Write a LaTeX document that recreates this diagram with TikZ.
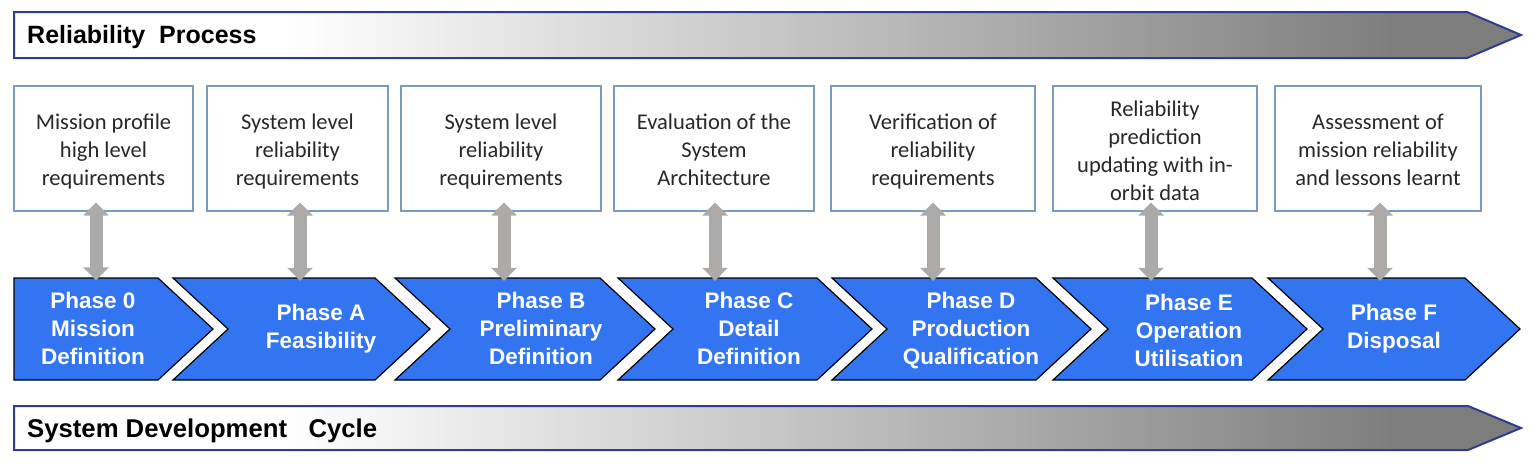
\documentclass[tikz,border=0pt]{standalone}
\usepackage{fontspec}
\setmainfont{Carlito}
\newfontfamily\arial{Liberation Sans}
\usetikzlibrary{arrows.meta,calc}
\definecolor{navy}{RGB}{46,61,140}
\definecolor{bgray}{RGB}{125,125,125}
\definecolor{boxblue}{RGB}{122,155,190}
\definecolor{boxtext}{RGB}{40,40,40}
\definecolor{chevblue}{RGB}{51,117,240}
\definecolor{arrgray}{RGB}{172,169,169}
\pgfdeclarehorizontalshading{bannershade}{100bp}{color(0bp)=(white); color(34bp)=(white); color(71bp)=(bgray); color(100bp)=(bgray)}
\tikzset{
  banner/.style={draw=navy, line width=2pt, shading=bannershade},
  rbox/.style={draw=boxblue, line width=1.3pt, fill=white, minimum height=125pt, inner sep=0pt},
  btext/.style={inner sep=0pt, align=center, text=boxtext, font=\fontsize{22.5}{28}\selectfont},
  chev/.style={fill=chevblue, draw=black, line width=1.2pt},
  ptext/.style={minimum height=102pt, inner sep=0pt, align=center, text=white, font=\arial\bfseries\fontsize{22.5}{28}\selectfont},
  dbl/.style={draw=arrgray, line width=13pt, {Triangle[width=25pt,length=13pt]}-{Triangle[width=25pt,length=13pt]}},
  ttl/.style={anchor=west, inner sep=0pt, font=\arial\bfseries\fontsize{25}{30}\selectfont}
}
\begin{document}
\begin{tikzpicture}[x=1pt,y=-1pt]
\useasboundingbox (0,0) rectangle (1534,467);
% banners
\path[banner] (14,12) -- (1467,12) -- (1521,35) -- (1467,58) -- (14,58) -- cycle;
\node[ttl] (t1) at (27,37) {Reliability\ \ Process};
\path[banner] (14,406) -- (1468,406) -- (1521,428) -- (1468,450) -- (14,450) -- cycle;
\node[ttl, font=\arial\bfseries\fontsize{25.7}{30}\selectfont] (t2) at (27,430.5) {System Development\ \ \ Cycle};
% boxes
\node[rbox, minimum width=179pt] (b1) at (103.5,148.5) {};
\node[rbox, minimum width=181pt] (b2) at (297.5,148.5) {};
\node[rbox, minimum width=200pt] (b3) at (501,148.5) {};
\node[rbox, minimum width=200pt] (b4) at (714,148.5) {};
\node[rbox, minimum width=204pt] (b5) at (933,148.5) {};
\node[rbox, minimum width=204pt] (b6) at (1155,148.5) {};
\node[rbox, minimum width=206pt] (b7) at (1378,148.5) {};
\node[btext] (l1) at ($(b1)+(0,3)$) {Mission profile\\high level\\requirements};
\node[btext] (l2) at ($(b2)+(0,3)$) {System level\\reliability\\requirements};
\node[btext] (l3) at ($(b3)+(0,3)$) {System level\\reliability\\requirements};
\node[btext] (l4) at ($(b4)+(0,1)$) {Evaluation of the\\System\\Architecture};
\node[btext] (l5) at ($(b5)+(0,3)$) {Verification of\\reliability\\requirements};
\node[btext] (l6) at ($(b6)+(0,2)$) {Reliability\\prediction\\updating with in-\\orbit data};
\node[btext] (l7) at ($(b7)+(0,1)$) {Assessment of\\mission reliability\\and lessons learnt};
% chevrons
\path[chev] (14,278) -- (158,278) -- (213,329) -- (158,380) -- (14,380) -- cycle;
\path[chev] (173,278) -- (375,278) -- (430,329) -- (375,380) -- (173,380) -- (228,329) -- cycle;
\path[chev] (395,278) -- (600,278) -- (655,329) -- (600,380) -- (395,380) -- (450,329) -- cycle;
\path[chev] (618,278) -- (817,278) -- (872,329) -- (817,380) -- (618,380) -- (673,329) -- cycle;
\path[chev] (832,278) -- (1036,278) -- (1091,329) -- (1036,380) -- (832,380) -- (887,329) -- cycle;
\path[chev] (1053,278) -- (1252,278) -- (1307,329) -- (1252,380) -- (1053,380) -- (1108,329) -- cycle;
\path[chev] (1268,278) -- (1465,278) -- (1520,329) -- (1465,380) -- (1268,380) -- (1323,329) -- cycle;
\node[ptext] (p0) at (93,328.5) {Phase 0\\Mission\\Definition};
\node[ptext] (pA) at (321,329) {Phase A\\Feasibility};
\node[ptext] (pB) at (541,328) {Phase B\\Preliminary\\Definition};
\node[ptext] (pC) at (749,328.5) {Phase C\\Detail\\Definition};
\node[ptext] (pD) at (971,330.5) {Phase D\\Production\\Qualification};
\node[ptext] (pE) at (1189,330) {Phase E\\Operation\\Utilisation};
\node[ptext] (pF) at (1394,329) {Phase F\\Disposal};
% connector columns
\coordinate (a1) at (96,0);
\coordinate (a2) at (300,0);
\coordinate (a3) at (504,0);
\coordinate (a4) at (715,0);
\coordinate (a5) at (933,0);
\coordinate (a6) at (1151,0);
\coordinate (a7) at (1380,0);
% connectors
\draw[dbl] ($(a1 |- b1.south)+(0,-9)$) -- ($(a1 |- p0.north)+(0,3)$);
\draw[dbl] ($(a2 |- b2.south)+(0,-9)$) -- ($(a2 |- pA.north)+(0,3)$);
\draw[dbl] ($(a3 |- b3.south)+(0,-9)$) -- ($(a3 |- pB.north)+(0,4)$);
\draw[dbl] ($(a4 |- b4.south)+(0,-9)$) -- ($(a4 |- pC.north)+(0,3.5)$);
\draw[dbl] ($(a5 |- b5.south)+(0,-9)$) -- ($(a5 |- pD.north)+(0,1.5)$);
\draw[dbl] ($(a6 |- b6.south)+(0,-9)$) -- ($(a6 |- pE.north)+(0,2)$);
\draw[dbl] ($(a7 |- b7.south)+(0,-9)$) -- ($(a7 |- pF.north)+(0,3)$);
\end{tikzpicture}
\end{document}
